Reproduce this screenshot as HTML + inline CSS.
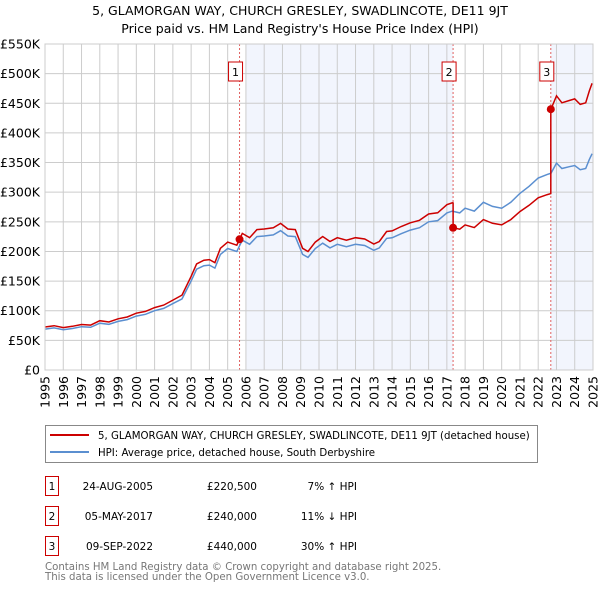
<!DOCTYPE html>
<html><head><meta charset="utf-8"><style>
body{margin:0;background:#fff;font-family:"Liberation Sans","DejaVu Sans",sans-serif;}
#wrap{position:relative;width:600px;height:590px;overflow:hidden}
svg text{font-family:"DejaVu Sans","Liberation Sans",sans-serif}
</style></head><body><div id="wrap">
<svg id="svg" width="600" height="590"></svg>
</div>
<script>
const hpiYears=[1995,1995.5,1996,1996.5,1997,1997.5,1998,1998.5,1999,1999.5,2000,2000.5,2001,2001.5,2002,2002.5,2003,2003.3,2003.7,2004,2004.3,2004.6,2005,2005.5,2005.8,2006.2,2006.6,2007,2007.5,2007.9,2008.3,2008.7,2009.1,2009.4,2009.8,2010.2,2010.6,2011,2011.5,2012,2012.5,2013,2013.3,2013.7,2014,2014.5,2015,2015.5,2016,2016.5,2017,2017.3,2017.7,2018,2018.5,2019,2019.5,2020,2020.5,2021,2021.5,2022,2022.5,2022.7,2023,2023.3,2023.7,2024,2024.3,2024.6,2024.8,2024.95];
const hpiValues=[69,71,68,70,73,72,79,77,82,85,91,94,100,104,112,120,150,170,176,177,172,195,205,200,219,212,225,226,228,235,226,225,195,190,205,214,206,212,208,212,210,202,206,222,223,230,236,240,250,252,265,268,265,273,268,283,276,273,283,298,310,324,330,332,349,340,343,345,338,340,355,365];
const saleYears=[2005.65,2017.34,2022.69];
const salePrices=[220.5,240,440];
const yTicks=[0,50,100,150,200,250,300,350,400,450,500,550];
const xTicks=[1995,1996,1997,1998,1999,2000,2001,2002,2003,2004,2005,2006,2007,2008,2009,2010,2011,2012,2013,2014,2015,2016,2017,2018,2019,2020,2021,2022,2023,2024,2025];
const rows=[["1","24-AUG-2005","£220,500","7% ↑ HPI"],["2","05-MAY-2017","£240,000","11% ↓ HPI"],["3","09-SEP-2022","£440,000","30% ↑ HPI"]];

const NS="http://www.w3.org/2000/svg",svg=document.getElementById('svg');
const X0=45,X1=593,Y0=370,Y1=44;
const sx=y=>X0+(y-1995)/30*(X1-X0), sy=v=>Y0-v/550*(Y0-Y1);
function el(t,a,p){const e=document.createElementNS(NS,t);for(const k in a)e.setAttribute(k,a[k]);(p||svg).appendChild(e);return e;}
function hpiAt(t){for(let i=1;i<hpiYears.length;i++){if(t<=hpiYears[i]){const f=(t-hpiYears[i-1])/(hpiYears[i]-hpiYears[i-1]);return hpiValues[i-1]+f*(hpiValues[i]-hpiValues[i-1]);}}return hpiValues[hpiValues.length-1];}

let t=el('text',{x:300,y:15,'text-anchor':'middle','font-size':12.5,fill:'#000'});t.textContent='5, GLAMORGAN WAY, CHURCH GRESLEY, SWADLINCOTE, DE11 9JT';

t=el('text',{x:300,y:33,'text-anchor':'middle','font-size':12.5,fill:'#000'});t.textContent="Price paid vs. HM Land Registry's House Price Index (HPI)";


let s=el('rect',{x:sx(saleYears[0])+7,y:Y1,width:sx(saleYears[1])-sx(saleYears[0])-7,height:Y0-Y1,fill:'#eef2fc',opacity:0.75});

s=el('rect',{x:sx(saleYears[2]),y:Y1,width:X1-sx(saleYears[2]),height:Y0-Y1,fill:'#eef2fc',opacity:0.75});


yTicks.forEach(v=>{const l=el('line',{x1:X0,x2:X1,y1:sy(v),y2:sy(v),stroke:'#ccc','stroke-width':1});

const tx=el('text',{x:X0-5,y:sy(v)+4.5,'text-anchor':'end','font-size':12.5,fill:'#000'});tx.textContent='£'+(v?v+'K':'0');
});
xTicks.forEach(y=>{const l=el('line',{x1:sx(y),x2:sx(y),y1:Y1,y2:Y0,stroke:'#ccc','stroke-width':1});

const tx=el('text',{x:0,y:0,'text-anchor':'end','font-size':12.5,fill:'#000',transform:`translate(${sx(y)+4.5},${Y0+6}) rotate(-90)`});tx.textContent=y;
});

saleYears.forEach((y,i)=>{const l=el('line',{x1:sx(y),x2:sx(y),y1:Y1,y2:Y0,stroke:'#e06060','stroke-width':1,'stroke-dasharray':'2,2'});

const r=el('rect',{x:sx(y)-11,y:62,width:14,height:19,fill:'#fff',stroke:'#c00','stroke-width':1});

const tx=el('text',{x:sx(y)-4,y:76,'text-anchor':'middle','font-size':11,fill:'#000'});tx.textContent=i+1;
});

let d='';hpiYears.forEach((y,i)=>{d+=(i?'L':'M')+sx(y).toFixed(1)+','+sy(hpiValues[i]).toFixed(1);});
let p=el('path',{d,fill:'none',stroke:'#5b8fd0','stroke-width':1.5});


function seg(k,t){return salePrices[k]*hpiAt(t)/hpiAt(saleYears[k]);}
let pts=[];
hpiYears.forEach((y,i)=>{let k=0;if(y>=saleYears[2])k=2;else if(y>=saleYears[1])k=1;pts.push([y,seg(k,y)]);});
[1,2].forEach(k=>{pts.push([saleYears[k]-0.001,seg(k-1,saleYears[k]-0.001)]);pts.push([saleYears[k],salePrices[k]]);});
pts.push([saleYears[0],salePrices[0]]);
pts.sort((a,b)=>a[0]-b[0]);
d='';pts.forEach((q,i)=>{d+=(i?'L':'M')+sx(q[0]).toFixed(1)+','+sy(q[1]).toFixed(1);});
p=el('path',{d,fill:'none',stroke:'#cc0000','stroke-width':1.5});

saleYears.forEach((y,i)=>{const c=el('circle',{cx:sx(y),cy:sy(salePrices[i]),r:4,fill:'#cc0000'});
});
let ax=el('rect',{x:X0,y:Y1,width:X1-X0,height:Y0-Y1,fill:'none',stroke:'#ccc'});


let lg=el('g',{});
el('rect',{x:45.5,y:425.5,width:492,height:37,fill:'#fff',stroke:'#888'},lg);
el('line',{x1:50,x2:89,y1:435,y2:435,stroke:'#cc0000','stroke-width':2},lg);
el('line',{x1:50,x2:89,y1:452,y2:452,stroke:'#5b8fd0','stroke-width':2},lg);
t=el('text',{x:98,y:439,'font-size':10.2,fill:'#000'},lg);t.textContent='5, GLAMORGAN WAY, CHURCH GRESLEY, SWADLINCOTE, DE11 9JT (detached house)';

t=el('text',{x:98,y:456,'font-size':10.2,fill:'#000'},lg);t.textContent='HPI: Average price, detached house, South Derbyshire';


rows.forEach((r,i)=>{const yb=476+i*30;
const b=el('rect',{x:45.5,y:yb+0.5,width:13,height:19,fill:'#fff',stroke:'#c00'});

const vals=[[52,'middle',r[0]],[153,'end',r[1]],[257,'end',r[2]],[357,'end',r[3]]];
vals.forEach(v=>{const tx=el('text',{x:v[0],y:yb+14,'text-anchor':v[1],'font-size':10.5,fill:'#000'});tx.textContent=v[2];
});});
t=el('text',{x:45,y:570,'font-size':10.2,fill:'#777'});t.textContent='Contains HM Land Registry data © Crown copyright and database right 2025.';

t=el('text',{x:45,y:580,'font-size':10.2,fill:'#777'});t.textContent='This data is licensed under the Open Government Licence v3.0.';

</script></body></html>
